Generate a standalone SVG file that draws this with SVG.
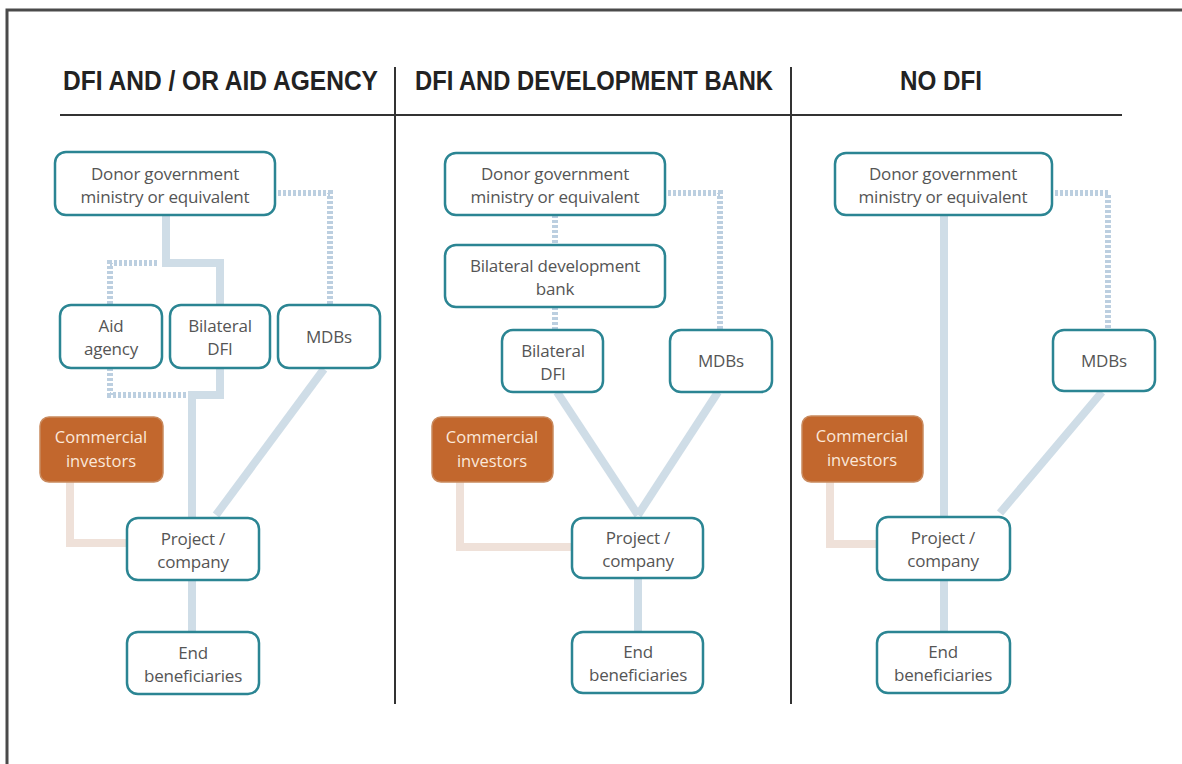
<svg xmlns="http://www.w3.org/2000/svg" width="1182" height="764" viewBox="0 0 1182 764">
<style>
.frame{fill:none;stroke:#4a4a4a;stroke-width:3}
.rule{stroke:#333;stroke-width:2}
.hdr{font-family:"Liberation Sans",Arial,sans-serif;font-weight:bold;font-size:27px;fill:#222}
.node rect{fill:#fff;stroke:#2b8593;stroke-width:2.5}
.node text{font-family:"Open Sans",Lato,sans-serif;font-size:17px;fill:#555;text-anchor:middle;letter-spacing:-0.2px}
.com rect{fill:#c2672d;stroke:#c98a5e;stroke-width:1.5}
.com text{font-family:"Open Sans",Lato,sans-serif;font-size:16.5px;fill:#fbe8da;text-anchor:middle}
.solid{fill:none;stroke:#cfdde7;stroke-width:8}
.dot{fill:none;stroke:#bccfe0;stroke-width:6;stroke-dasharray:3 2}
.peach{fill:none;stroke:#efe1d9;stroke-width:8}
</style>
<rect width="1182" height="764" fill="#fff"/>
<path class="frame" d="M7,764 V10 H1182"/>
<g id="headers">
<text class="hdr" x="63" y="90" textLength="315" lengthAdjust="spacingAndGlyphs">DFI AND / OR AID AGENCY</text>
<text class="hdr" x="415" y="90" textLength="358" lengthAdjust="spacingAndGlyphs">DFI AND DEVELOPMENT BANK</text>
<text class="hdr" x="900" y="90" textLength="82" lengthAdjust="spacingAndGlyphs">NO DFI</text>
<line class="rule" x1="60" y1="115" x2="1122" y2="115"/>
<line class="rule" x1="395" y1="67" x2="395" y2="704"/>
<line class="rule" x1="791" y1="67" x2="791" y2="704"/>
</g>
<g id="connectors">
<!-- column 1 -->
<path class="solid" d="M166,215 V263 H220 V305"/>
<path class="dot" d="M157,263 H110 V305"/>
<path class="dot" d="M278,193 H330 V305"/>
<path class="solid" d="M220,368 V395 H192 V518"/>
<path class="dot" d="M110,368 V395 H186"/>
<path class="solid" d="M324,369 L216,515"/>
<path class="peach" d="M70,482 V543 H127"/>
<path class="solid" d="M192,580 V632"/>
<!-- column 2 -->
<path class="dot" d="M555,215 V245"/>
<path class="dot" d="M555,307 V330"/>
<path class="dot" d="M668,193 H720 V330"/>
<path class="solid" d="M557,392 L638,515"/>
<path class="solid" d="M718,392 L638,515"/>
<path class="peach" d="M460,482 V547 H572"/>
<path class="solid" d="M638,578 V632"/>
<!-- column 3 -->
<path class="solid" d="M944,215 V517"/>
<path class="dot" d="M1055,193 H1108 V330"/>
<path class="solid" d="M1102,392 L1000,513"/>
<path class="peach" d="M830,482 V544 H877"/>
<path class="solid" d="M944,580 V632"/>
</g>
<!-- column 1 nodes -->
<g id="c1-donor" class="node"><rect x="55" y="152" width="220" height="63" rx="11"/><text x="165" y="180">Donor government</text><text x="165" y="203">ministry or equivalent</text></g>
<g id="c1-aid" class="node"><rect x="60" y="305" width="102" height="63" rx="11"/><text x="111" y="332">Aid</text><text x="111" y="355">agency</text></g>
<g id="c1-dfi" class="node"><rect x="170" y="305" width="100" height="63" rx="11"/><text x="220" y="332">Bilateral</text><text x="220" y="355">DFI</text></g>
<g id="c1-mdb" class="node"><rect x="278" y="305" width="102" height="63" rx="11"/><text x="329" y="343">MDBs</text></g>
<g id="c1-com" class="com"><rect x="40" y="417" width="123" height="65" rx="9"/><text x="101" y="443">Commercial</text><text x="101" y="467">investors</text></g>
<g id="c1-proj" class="node"><rect x="127" y="518" width="132" height="62" rx="11"/><text x="193" y="545">Project /</text><text x="193" y="568">company</text></g>
<g id="c1-end" class="node"><rect x="127" y="632" width="132" height="62" rx="11"/><text x="193" y="659">End</text><text x="193" y="682">beneficiaries</text></g>
<!-- column 2 nodes -->
<g id="c2-donor" class="node"><rect x="445" y="153" width="220" height="62" rx="11"/><text x="555" y="180">Donor government</text><text x="555" y="203">ministry or equivalent</text></g>
<g id="c2-bdb" class="node"><rect x="445" y="245" width="220" height="62" rx="11"/><text x="555" y="272">Bilateral development</text><text x="555" y="295">bank</text></g>
<g id="c2-dfi" class="node"><rect x="502" y="330" width="101" height="62" rx="11"/><text x="553" y="357">Bilateral</text><text x="553" y="380">DFI</text></g>
<g id="c2-mdb" class="node"><rect x="670" y="330" width="102" height="62" rx="11"/><text x="721" y="367">MDBs</text></g>
<g id="c2-com" class="com"><rect x="432" y="417" width="121" height="65" rx="9"/><text x="492" y="443">Commercial</text><text x="492" y="467">investors</text></g>
<g id="c2-proj" class="node"><rect x="572" y="518" width="131" height="60" rx="11"/><text x="638" y="544">Project /</text><text x="638" y="567">company</text></g>
<g id="c2-end" class="node"><rect x="572" y="632" width="131" height="61" rx="11"/><text x="638" y="658">End</text><text x="638" y="681">beneficiaries</text></g>
<!-- column 3 nodes -->
<g id="c3-donor" class="node"><rect x="835" y="153" width="217" height="62" rx="11"/><text x="943" y="180">Donor government</text><text x="943" y="203">ministry or equivalent</text></g>
<g id="c3-mdb" class="node"><rect x="1053" y="330" width="102" height="61" rx="11"/><text x="1104" y="367">MDBs</text></g>
<g id="c3-com" class="com"><rect x="802" y="416" width="121" height="66" rx="9"/><text x="862" y="442">Commercial</text><text x="862" y="466">investors</text></g>
<g id="c3-proj" class="node"><rect x="877" y="517" width="133" height="63" rx="11"/><text x="943" y="544">Project /</text><text x="943" y="567">company</text></g>
<g id="c3-end" class="node"><rect x="877" y="632" width="133" height="61" rx="11"/><text x="943" y="658">End</text><text x="943" y="681">beneficiaries</text></g>
</svg>
